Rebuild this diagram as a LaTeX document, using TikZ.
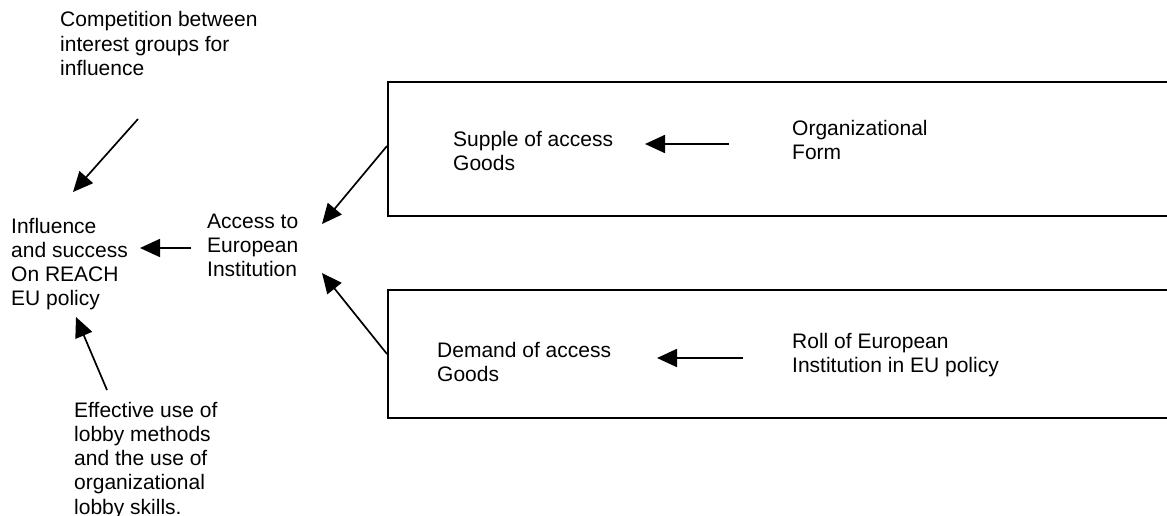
\documentclass[tikz,border=0pt]{standalone}
\usepackage{fontspec}
\setmainfont{Liberation Sans}
\usetikzlibrary{arrows.meta}
\begin{document}
\begin{tikzpicture}[x=1pt,y=-1pt,
  lbl/.style={anchor=base west, align=left, inner sep=0pt,
              font=\fontsize{21}{24.3}\selectfont},
  box/.style={draw, line width=2pt, anchor=north west, inner sep=0pt},
  arr/.style={line width=1.7pt, -{Triangle[length=20pt,width=18pt]}}]
\useasboundingbox (0,0) rectangle (1167,516);

% framed groups on the right (their right edges run off the page)
\node[box, minimum width=800pt, minimum height=134pt] (supplybox) at (387,81) {};
\node[box, minimum width=800pt, minimum height=128pt] (demandbox) at (387,289) {};

% texts (each placed by the baseline of its last line)
\node[lbl] (comp) at (60,75.6) {Competition between\\interest groups for\\influence};
\node[lbl] (infl) at (11,305.9) {Influence\\and success\\On REACH\\EU policy};
\node[lbl] (access) at (207,276.6) {Access to\\European\\Institution};
\node[lbl] (eff) at (74,514.2) {Effective use of\\lobby methods\\and the use of\\organizational\\lobby skills.};
\node[lbl] (supple) at (453,170.3) {Supple of access\\Goods};
\node[lbl] (orgform) at (792,159.3) {Organizational\\Form};
\node[lbl] (demand) at (437,381.3) {Demand of access\\Goods};
\node[lbl] (roll) at (792,372.3) {Roll of European\\Institution in EU policy};

% arrow end points
\coordinate (compTail) at (138,119);
\coordinate (inflTop) at (73,192);
\coordinate (accessLeft) at (191,248);
\coordinate (inflRight) at (140,248);
\coordinate (effTail) at (107,390);
\coordinate (inflBottom) at (76,317);
\coordinate (accessUpper) at (322,224);
\coordinate (accessLower) at (322,273);
\coordinate (orgTail) at (729,144);
\coordinate (suppleTip) at (645,144);
\coordinate (rollTail) at (743,358);
\coordinate (demandTip) at (657,358);

% connectors
\draw[arr] (compTail) -- (inflTop);
\draw[arr] (accessLeft) -- (inflRight);
\draw[arr] (effTail) -- (inflBottom);
\draw[arr] ([yshift=3pt]supplybox.west) -- (accessUpper);
\draw[arr] (demandbox.west) -- (accessLower);
\draw[arr] (orgTail) -- (suppleTip);
\draw[arr] (rollTail) -- (demandTip);
\end{tikzpicture}
\end{document}
